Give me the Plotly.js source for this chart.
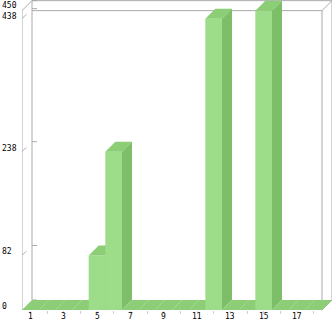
<!DOCTYPE html>
<html>
<head>
<meta charset="utf-8">
<script src="https://cdn.plot.ly/plotly-3.0.1.min.js"></script>
<style>html,body{margin:0;padding:0;background:#fff;}#chart{width:333px;height:321px;}</style>
</head>
<body>
<div id="chart"></div>
<script>
// ---- data ----
const categories = [1,2,3,4,5,6,7,8,9,10,11,12,13,14,15,16,17,18];
const values     = [0,0,0,0,82,238,0,0,0,0,0,438,0,0,450,0,0,0];
const xTickText  = ['1','','3','','5','','7','','9','','11','','13','','15','','17',''];
const yTickValues = [0,82,238,438,450];
const yTickText   = ['0','82','238','438','450'];

// ---- style / geometry ----
const DX = 0.6;      // depth in category units
const DY = 15;       // depth in value units
const YMAX = 450;
const FRONT = '#9ddc88', TOP = '#8bce76', SIDE = '#7cbf68';
const GRAY = '#aaaaaa';
const FONT = {family: 'DejaVu Sans Mono, monospace', size: 8, color: '#000'};

const traces = [];
function poly(xs, ys, color) {
  traces.push({type: 'scatter', mode: 'lines', x: xs, y: ys, fill: 'toself',
    fillcolor: color, line: {width: 0, color: color},
    hoverinfo: 'skip', showlegend: false});
}
categories.forEach((c, i) => {
  const v = values[i], l = c - 0.5, r = c + 0.5;
  if (v > 0) poly([l, r, r, l, l], [0, 0, v, v, 0], FRONT);
  poly([l, l + DX, r + DX, r, l], [v, v + DY, v + DY, v, v], TOP);
  if (v > 0) poly([r, r + DX, r + DX, r, r], [0, DY, v + DY, v, 0], SIDE);
});

const x0 = categories[0] - 0.5, x1 = categories[categories.length - 1] + 0.5;
function seg(xa, ya, xb, yb) {
  return {type: 'line', xref: 'x', yref: 'y', x0: xa, y0: ya, x1: xb, y1: yb,
    line: {color: GRAY, width: 1}, layer: 'below'};
}
const shapes = [
  seg(x0, 0, x0, YMAX),                       // front left
  seg(x0, YMAX, x0 + DX, YMAX + DY),           // top-left diagonal
  seg(x0 + DX, DY, x0 + DX, YMAX + DY),       // back left
  seg(x0 + DX, YMAX + DY, x1 + DX, YMAX + DY), // back top
  seg(x1 + DX, DY, x1 + DX, YMAX + DY),       // back right
  seg(x0 + DX, YMAX, x1, YMAX),               // front top
  seg(x1, 0, x1, YMAX),                       // front right
  seg(x1, YMAX, x1 + DX, YMAX + DY),           // top-right diagonal
  seg(x1, 0, x1 + DX, DY),                    // bottom-right diagonal
  seg(x0, 0, x1, 0)                           // bottom line
];
yTickValues.forEach(v => {
  if (v !== 0 && v !== YMAX) shapes.push(seg(x0, v, x0 + DX * 0.42, v + DY * 0.42));
  shapes.push(seg(x0 + DX, v + DY, x0 + DX + 0.3, v + DY));
});

// label vertical offsets (px) so close labels do not collide
const yLabelShift = {0: 3.5, 82: 3.5, 238: 3.5, 438: 2.5, 450: 5.5};
const annotations = yTickValues.map((v, i) => ({
  xref: 'paper', yref: 'y', x: -22 / 310, y: v, yshift: yLabelShift[v],
  xanchor: 'left', yanchor: 'middle', text: yTickText[i], showarrow: false, font: FONT
}));
categories.forEach((c, i) => {
  if (xTickText[i]) annotations.push({
    xref: 'x', yref: 'paper', x: c, y: 0, yshift: -6.5,
    xanchor: 'center', yanchor: 'middle', text: xTickText[i], showarrow: false, font: FONT
  });
});

const layout = {
  width: 333, height: 321,
  margin: {l: 22, r: 1, t: 0, b: 11, pad: 0},
  paper_bgcolor: '#fff', plot_bgcolor: '#fff',
  showlegend: false,
  xaxis: {range: [0.5, x1 + DX], showgrid: false, zeroline: false, showline: false,
    tickmode: 'array', tickvals: categories, showticklabels: false,
    ticks: 'outside', ticklen: 3, tickcolor: '#d0d0d0', fixedrange: true},
  yaxis: {range: [0, 466], showgrid: false, zeroline: false, showline: false,
    showticklabels: false, ticks: '', fixedrange: true},
  shapes: shapes,
  annotations: annotations
};

Plotly.newPlot('chart', traces, layout, {staticPlot: true, displayModeBar: false});
</script>
</body>
</html>
